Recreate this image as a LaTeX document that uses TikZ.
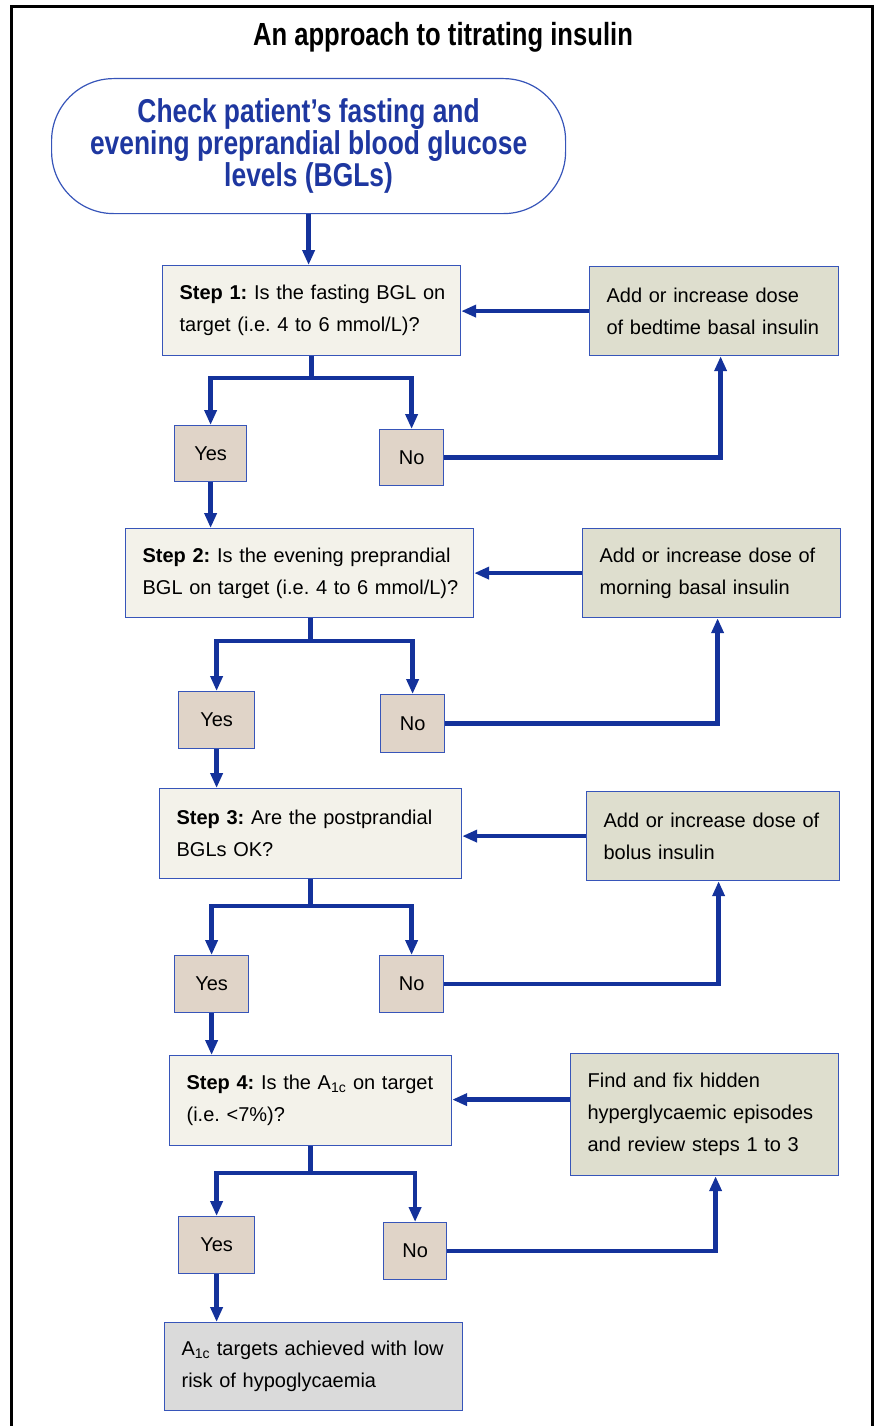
\documentclass[tikz,border=0pt]{standalone}
\usepackage{fontspec}
\setmainfont{Liberation Sans}
\newfontfamily\condfont[FakeStretch=0.8]{Liberation Sans}
\usetikzlibrary{arrows.meta,calc}
\frenchspacing
\definecolor{arrowblue}{RGB}{20,50,155}
\definecolor{boxblue}{RGB}{55,85,185}
\definecolor{textblue}{RGB}{30,55,160}
\definecolor{stepfill}{RGB}{243,242,234}
\definecolor{actfill}{RGB}{222,222,206}
\definecolor{ynfill}{RGB}{224,212,200}
\definecolor{endfill}{RGB}{218,218,218}
\newcommand{\bodyfont}{\fontsize{20}{32}\selectfont}
\newcommand{\ml}[1]{\mbox{#1}}
\tikzset{
  box/.style={draw=boxblue, line width=1.2pt, anchor=north west, inner xsep=17pt, inner ysep=0pt, align=left, font=\bodyfont},
  stepbox/.style={box, fill=stepfill},
  actbox/.style={box, fill=actfill},
  ynbox/.style={draw=boxblue, line width=1.2pt, anchor=north west, inner sep=0pt, fill=ynfill, font=\bodyfont},
  arr/.style={draw=arrowblue, line width=4.5pt, -{Triangle[length=15pt,width=12pt]}},
  ln/.style={draw=arrowblue, line width=4.5pt}
}
\begin{document}
\begin{tikzpicture}[x=1pt,y=1pt]
\useasboundingbox (0,0) rectangle (874,-1426);
\draw[line width=3pt] (11.5,-1426) -- (11.5,-6.5) -- (872.5,-6.5) -- (872.5,-1426);
\node[font=\condfont\bfseries\fontsize{32}{34}\selectfont] (title) at (443,-37) {An approach to titrating insulin};
\node[draw=boxblue, line width=1.2pt, rounded corners=62pt, anchor=north west, minimum width=514pt, minimum height=135pt, inner sep=0pt, align=center, text=textblue, font=\condfont\bfseries\fontsize{33}{32}\selectfont] (top) at (51,-78) {Check patient’s fasting and\\evening preprandial blood glucose\\levels (BGLs)};
% Step 1
\node[stepbox, text width=264pt, minimum height=90pt] (s1) at (162,-265) {\ml{\textbf{Step 1:} Is the fasting BGL on}\\\ml{target (i.e. 4 to 6 mmol/L)?}};
\node[actbox, text width=215pt, minimum height=89pt] (r1) at (589,-266) {\ml{Add or increase dose}\\\ml{of bedtime basal insulin}};
\node[ynbox, minimum width=72pt, minimum height=56pt] (y1) at (174,-425) {Yes};
\node[ynbox, minimum width=64pt, minimum height=56pt] (n1) at (379,-429) {No};
% Step 2
\node[stepbox, text width=314pt, minimum height=89pt] (s2) at (125,-528) {\ml{\textbf{Step 2:} Is the evening preprandial}\\\ml{BGL on target (i.e. 4 to 6 mmol/L)?}};
\node[actbox, text width=224pt, minimum height=89pt] (r2) at (582,-528) {\ml{Add or increase dose of}\\\ml{morning basal insulin}};
\node[ynbox, minimum width=76pt, minimum height=57pt] (y2) at (178,-691) {Yes};
\node[ynbox, minimum width=64pt, minimum height=58pt] (n2) at (380,-694) {No};
% Step 3
\node[stepbox, text width=268pt, minimum height=90pt] (s3) at (159,-788) {\ml{\textbf{Step 3:} Are the postprandial}\\\ml{BGLs OK?}};
\node[actbox, text width=219pt, minimum height=89pt] (r3) at (586,-791) {\ml{Add or increase dose of}\\\ml{bolus insulin}};
\node[ynbox, minimum width=74pt, minimum height=57pt] (y3) at (174,-955) {Yes};
\node[ynbox, minimum width=64pt, minimum height=57pt] (n3) at (379,-955) {No};
% Step 4
\node[stepbox, text width=248pt, minimum height=90pt] (s4) at (169,-1055) {\ml{\textbf{Step 4:} Is the A\textsubscript{1c} on target}\\\ml{(i.e. <7\%)?}};
\node[actbox, text width=234pt, minimum height=122pt] (r4) at (570,-1053) {\ml{Find and fix hidden}\\\ml{hyperglycaemic episodes}\\\ml{and review steps 1 to 3}};
\node[ynbox, minimum width=76pt, minimum height=57pt] (y4) at (178,-1216) {Yes};
\node[ynbox, minimum width=63pt, minimum height=57pt] (n4) at (383,-1222) {No};
% End
\node[box, fill=endfill, text width=264pt, minimum height=88pt] (end) at (164,-1322) {\ml{A\textsubscript{1c} targets achieved with low}\\\ml{risk of hypoglycaemia}};
% connectors
\draw[arr] (top.south) -- (top.south |- s1.north);
\draw[ln] (s1.south) -- ++(0,-22) coordinate (j1);
\draw[arr] (j1) -| (y1.north);
\draw[arr] (j1) -| (n1.north);
\draw[arr] (r1.west) -- (r1.west -| s1.east);
\draw[arr] (n1.east) -| ([xshift=6.5pt]r1.south);
\draw[arr] (y1.south) -- (y1.south |- s2.north);
\draw[ln] ([xshift=11pt]s2.south) -- ++(0,-23) coordinate (j2);
\draw[arr] (j2) -| (y2.north);
\draw[arr] (j2) -| (n2.north);
\draw[arr] (r2.west) -- (r2.west -| s2.east);
\draw[arr] (n2.east) -| ([xshift=6pt]r2.south);
\draw[arr] (y2.south) -- (y2.south |- s3.north);
\draw[ln] (s3.south) -- ++(0,-27) coordinate (j3);
\draw[arr] (j3) -| (y3.north);
\draw[arr] (j3) -| (n3.north);
\draw[arr] (r3.west) -- (r3.west -| s3.east);
\draw[arr] (n3.east) -| ([xshift=5.5pt]r3.south);
\draw[arr] (y3.south) -- (y3.south |- s4.north);
\draw[ln] (s4.south) -- ++(0,-27) coordinate (j4);
\draw[arr] (j4) -| (y4.north);
\draw[arr] (j4) -| (n4.north);
\draw[arr] ([yshift=15pt]r4.west) -- ([yshift=15pt]r4.west -| s4.east);
\draw[arr] (n4.east) -| ([xshift=11pt]r4.south);
\draw[arr] (y4.south) -- (y4.south |- end.north);
\end{tikzpicture}
\end{document}
